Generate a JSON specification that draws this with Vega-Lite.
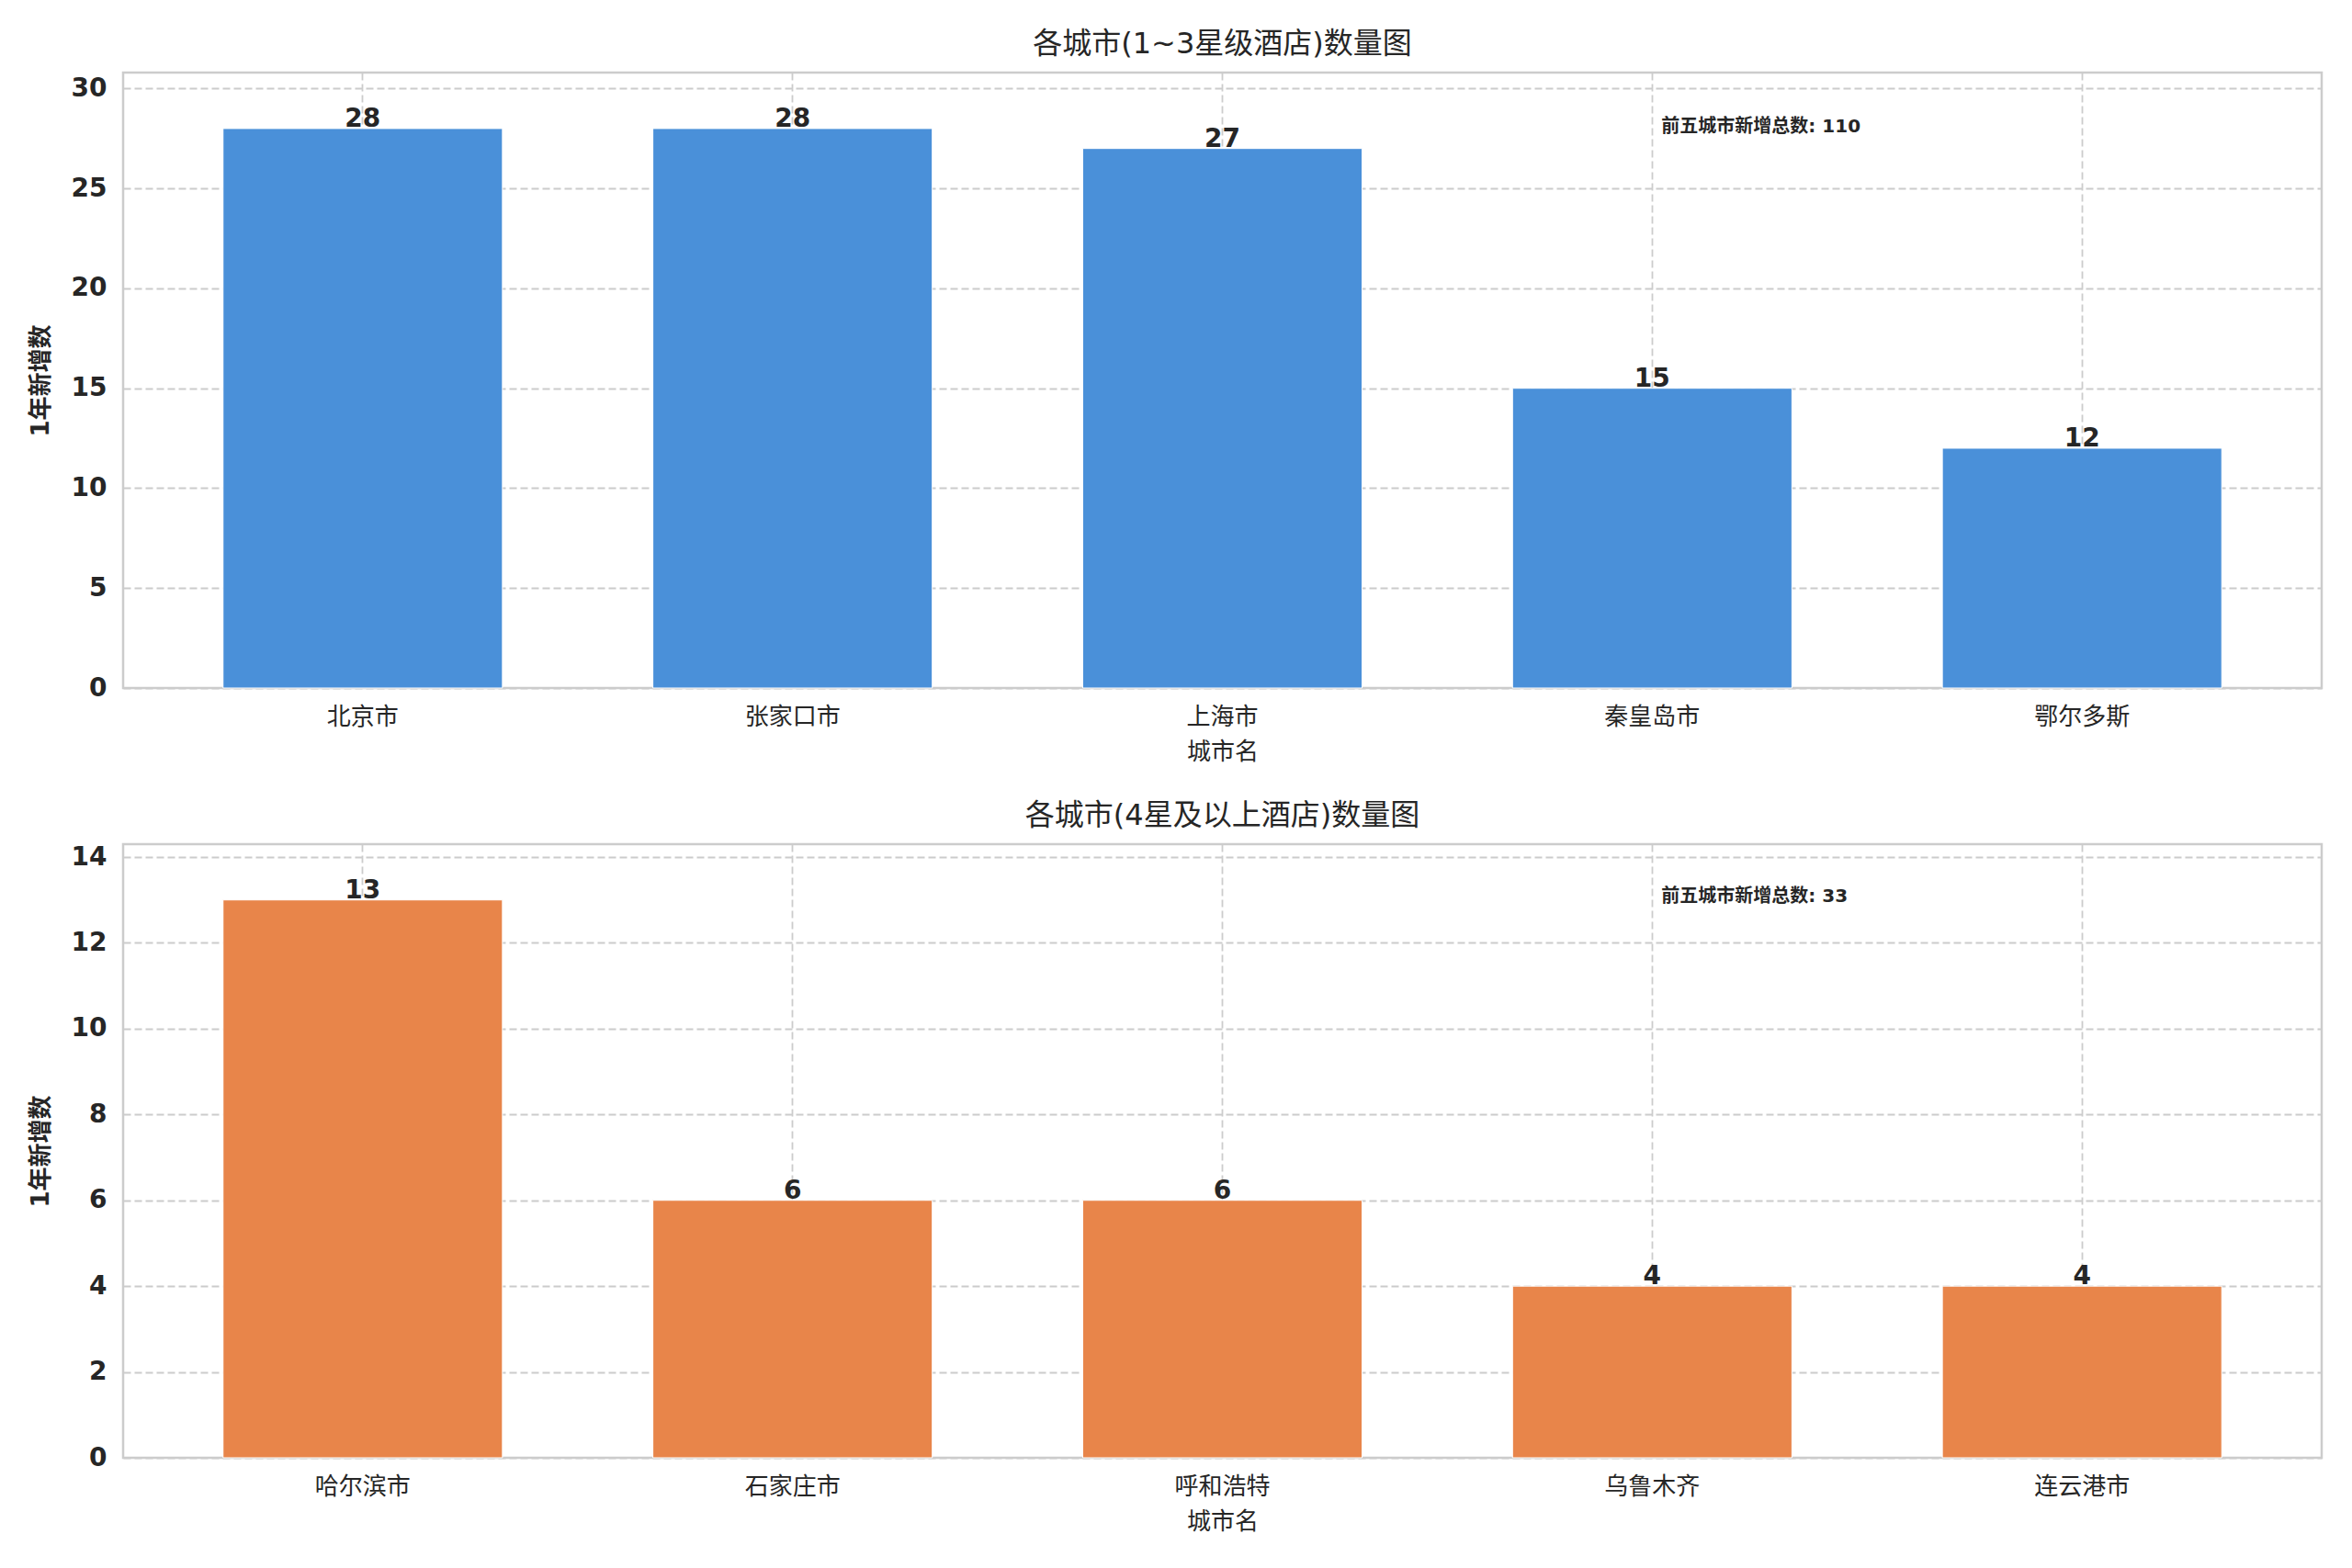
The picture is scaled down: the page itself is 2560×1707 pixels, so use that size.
{
  "$schema": "https://vega.github.io/schema/vega-lite/v6.json",
  "padding": {"left": 29, "top": 30, "right": 32, "bottom": 20},
  "bounds": "flush",
  "spacing": 170,
  "config": {
    "font": "DejaVu Sans, Noto Sans CJK SC",
    "background": "white",
    "view": {"stroke": "#cccccc", "strokeWidth": 2.5},
    "axis": {
      "domain": false,
      "ticks": false,
      "gridColor": "#cccccc",
      "gridDash": [8, 4],
      "gridWidth": 1.8,
      "labelColor": "#262626",
      "titleColor": "#262626",
      "labelFont": "DejaVu Sans, Noto Sans CJK SC",
      "titleFont": "DejaVu Sans, Noto Sans CJK SC",
      "labelFontSize": 26,
      "titleFontSize": 26
    },
    "axisX": {"labelAngle": 0, "labelFontWeight": "normal", "bandPosition": 0.5, "grid": true, "labelPadding": 18, "titlePadding": 12, "titleFontWeight": "normal"},
    "axisY": {"labelFontWeight": "bold", "labelFontSize": 28, "labelPadding": 18, "titlePadding": 20, "titleFontWeight": "bold"},
    "title": {"fontSize": 32, "fontWeight": "normal", "color": "#262626", "offset": 14, "font": "DejaVu Sans, Noto Sans CJK SC"}
  },
  "vconcat": [
    {
      "width": 2393,
      "height": 670,
      "title": "各城市(1~3星级酒店)数量图",
      "data": {
        "values": [
          {"city": "北京市", "count": 28},
          {"city": "张家口市", "count": 28},
          {"city": "上海市", "count": 27},
          {"city": "秦皇岛市", "count": 15},
          {"city": "鄂尔多斯", "count": 12}
        ]
      },
      "layer": [
        {
          "mark": {"type": "bar", "color": "#4a90d9", "stroke": "white", "strokeWidth": 1},
          "encoding": {
            "x": {"field": "city", "type": "nominal", "sort": null, "title": "城市名", "scale": {"paddingInner": 0.35, "paddingOuter": 0.2325}},
            "y": {"field": "count", "type": "quantitative", "title": "1年新增数", "scale": {"domain": [0, 30.8], "nice": false}, "axis": {"values": [0, 5, 10, 15, 20, 25, 30]}}
          }
        },
        {
          "mark": {"type": "text", "fontWeight": "bold", "fontSize": 28, "dy": -2, "baseline": "alphabetic", "color": "#262626"},
          "encoding": {
            "x": {"field": "city", "type": "nominal", "sort": null},
            "y": {"field": "count", "type": "quantitative"},
            "text": {"field": "count"}
          }
        },
        {
          "transform": [
            {"joinaggregate": [{"op": "sum", "field": "count", "as": "total"}]},
            {"filter": "datum.city == '秦皇岛市'"},
            {"calculate": "'前五城市新增总数: ' + datum.total", "as": "label"}
          ],
          "mark": {"type": "text", "align": "left", "baseline": "middle", "fontWeight": "bold", "fontSize": 20, "dx": 10, "color": "#262626"},
          "encoding": {
            "x": {"field": "city", "type": "nominal", "sort": null},
            "y": {"datum": 28.1, "type": "quantitative"},
            "text": {"field": "label"}
          }
        }
      ]
    },
    {
      "width": 2393,
      "height": 668,
      "title": "各城市(4星及以上酒店)数量图",
      "data": {
        "values": [
          {"city": "哈尔滨市", "count": 13},
          {"city": "石家庄市", "count": 6},
          {"city": "呼和浩特", "count": 6},
          {"city": "乌鲁木齐", "count": 4},
          {"city": "连云港市", "count": 4}
        ]
      },
      "layer": [
        {
          "mark": {"type": "bar", "color": "#e8854a", "stroke": "white", "strokeWidth": 1},
          "encoding": {
            "x": {"field": "city", "type": "nominal", "sort": null, "title": "城市名", "scale": {"paddingInner": 0.35, "paddingOuter": 0.2325}},
            "y": {"field": "count", "type": "quantitative", "title": "1年新增数", "scale": {"domain": [0, 14.3], "nice": false}, "axis": {"values": [0, 2, 4, 6, 8, 10, 12, 14]}}
          }
        },
        {
          "mark": {"type": "text", "fontWeight": "bold", "fontSize": 28, "dy": -2, "baseline": "alphabetic", "color": "#262626"},
          "encoding": {
            "x": {"field": "city", "type": "nominal", "sort": null},
            "y": {"field": "count", "type": "quantitative"},
            "text": {"field": "count"}
          }
        },
        {
          "transform": [
            {"joinaggregate": [{"op": "sum", "field": "count", "as": "total"}]},
            {"filter": "datum.city == '乌鲁木齐'"},
            {"calculate": "'前五城市新增总数: ' + datum.total", "as": "label"}
          ],
          "mark": {"type": "text", "align": "left", "baseline": "middle", "fontWeight": "bold", "fontSize": 20, "dx": 10, "color": "#262626"},
          "encoding": {
            "x": {"field": "city", "type": "nominal", "sort": null},
            "y": {"datum": 13.07, "type": "quantitative"},
            "text": {"field": "label"}
          }
        }
      ]
    }
  ]
}
